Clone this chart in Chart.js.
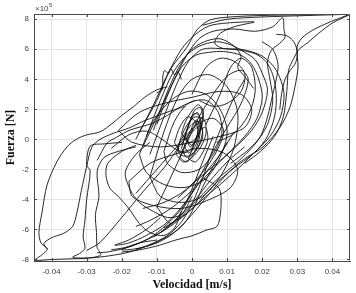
<!DOCTYPE html>
<html>
<head>
<meta charset="utf-8">
<script src="https://cdn.jsdelivr.net/npm/chart.js@4.4.0/dist/chart.umd.min.js"></script>
<style>
html,body{margin:0;padding:0;background:#fff;}
#wrap{width:356px;height:293px;position:relative;}
</style>
</head>
<body>
<div id="wrap"><canvas id="c"></canvas></div>
<script>
// Velocity [m/s] vs Force [x10^5 N] traces
const xTicks = [-0.04,-0.03,-0.02,-0.01,0,0.01,0.02,0.03,0.04];
const yTicks = [-8,-6,-4,-2,0,2,4,6,8];

const outerLeft = [[-0.0070,3.50],[-0.0100,3.30],[-0.0135,2.80],[-0.0168,2.15],[-0.0200,1.60],[-0.0225,1.10],[-0.0262,0.50],[-0.0300,0.30],[-0.0330,0.00],[-0.0356,-0.50],[-0.0385,-1.50],[-0.0413,-3.05],[-0.0427,-4.85],[-0.0436,-6.20],[-0.0430,-6.90],[-0.0412,-7.30],[-0.0428,-7.70],[-0.0447,-8.05],[-0.0400,-8.00],[-0.0340,-7.95],[-0.0280,-7.88],[-0.0220,-7.70],[-0.0170,-7.45],[-0.0120,-7.00],[-0.0070,-6.40],[-0.0030,-5.50],[0.0000,-4.30],[0.0030,-2.60],[0.0060,-0.60],[0.0090,1.20],[0.0120,2.80],[0.0150,4.00]];
const secondLeft = [[-0.0412,-7.30],[-0.0422,-6.95],[-0.0400,-6.55],[-0.0365,-6.25],[-0.0340,-5.80],[-0.0328,-4.90],[-0.0315,-3.40],[-0.0300,-1.80],[-0.0285,-0.50],[-0.0262,0.00],[-0.0225,0.40],[-0.0180,0.75],[-0.0140,1.20],[-0.0100,1.55],[-0.0060,1.90],[-0.0020,2.20]];
const leftVertical = [[-0.0200,-0.20],[-0.0250,-0.30],[-0.0290,-0.45],[-0.0300,-1.70],[-0.0290,-2.10],[-0.0300,-4.00],[-0.0305,-5.40],[-0.0310,-6.50],[-0.0305,-7.25],[-0.0320,-7.60],[-0.0340,-7.85],[-0.0300,-7.90],[-0.0260,-7.70],[-0.0270,-7.20],[-0.0272,-6.20],[-0.0275,-5.00],[-0.0265,-3.80],[-0.0270,-2.10],[-0.0250,-1.20],[-0.0210,-0.80],[-0.0160,-0.50]];
const leftMid = [[-0.0270,-1.40],[-0.0242,-0.25],[-0.0214,0.15],[-0.0177,0.62],[-0.0148,0.82],[-0.0110,1.10],[-0.0070,1.60],[-0.0030,2.20],[0.0010,2.60]];
const leftCross = [[-0.0230,-0.60],[-0.0180,0.30],[-0.0130,0.55],[-0.0085,0.00],[-0.0050,-0.60],[-0.0020,-0.90]];
const diagonal = [[-0.0300,-7.40],[-0.0262,-6.86],[-0.0200,-5.20],[-0.0140,-3.50],[-0.0080,-1.90],[-0.0034,-0.40],[0.0000,0.60],[0.0030,1.50]];
const lowerLeftLoop = [[-0.0160,-0.40],[-0.0200,-0.80],[-0.0240,-1.60],[-0.0245,-2.40],[-0.0234,-3.25],[-0.0210,-3.80],[-0.0180,-4.60],[-0.0150,-5.60],[-0.0120,-6.20],[-0.0080,-6.40],[-0.0050,-5.90],[-0.0030,-4.80]];
const lowerLeft2 = [[-0.0120,-0.20],[-0.0160,-1.00],[-0.0190,-2.20],[-0.0175,-3.40],[-0.0150,-4.20],[-0.0110,-4.80],[-0.0070,-5.20],[-0.0030,-5.00],[0.0000,-3.80]];
const lowerBulge = [[0.0034,-2.60],[0.0077,-3.26],[0.0083,-4.26],[0.0077,-5.50],[0.0068,-5.85],[0.0040,-6.05],[0.0003,-6.40],[-0.0046,-6.70],[-0.0100,-7.10],[-0.0160,-7.40],[-0.0200,-7.50]];
const upper1 = [[-0.0150,0.50],[-0.0100,2.60],[-0.0063,4.60],[-0.0014,6.15],[0.0014,7.29],[0.0051,7.95],[0.0108,8.15],[0.0200,8.25],[0.0300,8.30],[0.0447,8.35],[0.0393,7.82],[0.0345,7.29],[0.0313,6.75],[0.0299,6.15],[0.0302,4.82],[0.0293,3.49],[0.0279,2.15],[0.0251,0.82],[0.0202,-0.51],[0.0157,-1.18],[0.0137,-1.51],[0.0100,-2.30],[0.0050,-3.60],[0.0000,-5.00],[-0.0050,-6.20],[-0.0100,-6.90],[-0.0160,-7.30]];
const upper1b = [[0.0447,8.28],[0.0400,7.75],[0.0360,7.05],[0.0330,6.45],[0.0305,6.00],[0.0290,5.40],[0.0275,4.60],[0.0270,3.20],[0.0260,1.50],[0.0235,0.20],[0.0195,-0.80],[0.0150,-1.60]];
const topLine = [[0.0030,7.60],[0.0100,8.00],[0.0200,8.15],[0.0330,8.25],[0.0447,8.33]];
const upper2 = [[-0.0160,0.00],[-0.0110,2.30],[-0.0070,4.30],[-0.0030,6.00],[0.0005,6.90],[0.0048,7.55],[0.0100,7.75],[0.0177,7.82],[0.0120,7.50],[0.0080,7.05],[0.0065,6.40],[0.0090,6.05],[0.0140,6.00],[0.0200,5.55],[0.0240,4.60],[0.0262,3.10],[0.0252,1.50],[0.0222,0.20],[0.0172,-1.00],[0.0120,-1.90],[0.0060,-3.10],[0.0010,-4.40],[-0.0050,-5.60],[-0.0110,-6.50]];
const upper3 = [[-0.0140,-0.50],[-0.0090,2.00],[-0.0050,4.00],[-0.0015,5.60],[0.0020,6.70],[0.0060,7.20],[0.0120,7.35],[0.0180,7.20],[0.0230,7.50],[0.0258,8.10],[0.0262,7.30],[0.0265,6.80],[0.0250,6.40],[0.0225,5.90],[0.0215,5.10],[0.0222,4.00],[0.0230,2.60],[0.0215,1.00],[0.0180,-0.30],[0.0130,-1.50],[0.0070,-2.70],[0.0020,-3.90],[-0.0030,-5.10],[-0.0090,-6.20]];
const upper4 = [[-0.0120,-1.00],[-0.0080,1.50],[-0.0045,3.60],[-0.0010,5.20],[0.0030,6.00],[0.0080,6.05],[0.0135,5.95],[0.0180,5.70],[0.0210,5.20],[0.0230,4.30],[0.0240,3.00],[0.0235,1.50],[0.0210,0.00],[0.0160,-1.30],[0.0100,-2.60],[0.0040,-3.80],[-0.0020,-5.00],[-0.0080,-5.90]];
const upper5 = [[-0.0100,1.00],[-0.0065,3.20],[-0.0030,4.80],[0.0010,5.60],[0.0050,5.80],[0.0090,5.85],[0.0140,5.60],[0.0170,5.00],[0.0190,4.00],[0.0200,2.80],[0.0185,1.40],[0.0150,0.20],[0.0100,-1.00],[0.0050,-2.20],[0.0000,-3.40],[-0.0060,-4.60],[-0.0120,-5.40],[-0.0160,-5.80]];
const upper6 = [[-0.0130,0.20],[-0.0090,2.60],[-0.0055,4.40],[-0.0020,5.50],[0.0020,6.20],[0.0070,6.50],[0.0110,6.30],[0.0150,5.80],[0.0180,5.30],[0.0200,4.40],[0.0215,3.30],[0.0200,1.80],[0.0170,0.60],[0.0120,-0.60],[0.0060,-1.80],[0.0010,-2.80],[-0.0040,-3.90]];
const upper7 = [[-0.0110,0.60],[-0.0075,2.90],[-0.0040,4.70],[-0.0005,5.90],[0.0035,6.50],[0.0080,6.70],[0.0120,6.20],[0.0140,5.50],[0.0130,4.80],[0.0150,4.20],[0.0175,3.40]];
const rightInner1 = [[0.0200,6.50],[0.0230,6.00],[0.0245,5.00],[0.0240,4.00],[0.0230,3.00],[0.0215,1.50],[0.0195,0.20],[0.0160,-0.70],[0.0110,-1.60]];
const rightInner2 = [[0.0240,7.00],[0.0270,6.90],[0.0290,6.50],[0.0300,5.80],[0.0295,5.10],[0.0280,4.60],[0.0265,4.00],[0.0255,3.00],[0.0250,2.00]];
const rightMid1 = [[0.0000,3.00],[0.0040,4.80],[0.0080,5.40],[0.0120,5.20],[0.0150,4.40],[0.0140,3.20],[0.0100,2.40],[0.0060,2.20],[0.0020,2.60]];
const rightMid2 = [[0.0040,1.00],[0.0080,3.00],[0.0110,4.80],[0.0140,5.40],[0.0170,4.80],[0.0180,3.20],[0.0160,1.60],[0.0120,0.40],[0.0070,-0.20]];
const mid1 = [[-0.0120,-2.50],[-0.0080,0.50],[-0.0040,2.80],[0.0000,4.00],[0.0050,4.30],[0.0100,3.50],[0.0130,1.80],[0.0120,-0.50],[0.0080,-2.50],[0.0030,-3.80],[-0.0030,-4.20],[-0.0090,-3.80],[-0.0120,-2.50]];
const mid2 = [[-0.0150,-1.00],[-0.0110,1.20],[-0.0060,2.60],[-0.0010,3.20],[0.0040,3.00],[0.0080,2.00],[0.0100,0.50],[0.0080,-1.20],[0.0040,-2.60],[-0.0020,-3.20],[-0.0080,-3.00],[-0.0130,-2.20],[-0.0150,-1.00]];
const mid3 = [[-0.0080,-0.80],[-0.0050,1.20],[-0.0010,2.40],[0.0040,2.60],[0.0075,1.80],[0.0085,0.40],[0.0060,-1.00],[0.0020,-2.00],[-0.0030,-2.20],[-0.0070,-1.60],[-0.0080,-0.80]];
const mid4 = [[-0.0210,0.60],[-0.0150,1.80],[-0.0080,2.40],[0.0000,2.80],[0.0080,3.20],[0.0140,3.00],[0.0170,2.00],[0.0150,0.80],[0.0080,0.20],[0.0000,-0.20],[-0.0090,-0.50],[-0.0170,-0.20],[-0.0210,0.60]];
const mid5 = [[-0.0180,-2.80],[-0.0120,-1.60],[-0.0050,-1.00],[0.0020,-0.60],[0.0090,-0.90],[0.0130,-2.00],[0.0110,-3.20],[0.0050,-4.00],[-0.0030,-4.60],[-0.0110,-4.40],[-0.0170,-3.80],[-0.0180,-2.80]];
const mid6 = [[-0.0100,-4.50],[-0.0060,-2.50],[-0.0020,-0.50],[0.0020,1.50],[0.0060,3.00],[0.0100,4.20],[0.0140,4.60],[0.0160,4.00],[0.0140,2.40],[0.0100,0.80],[0.0060,-0.80],[0.0020,-2.60],[-0.0020,-4.40],[-0.0060,-5.60],[-0.0100,-4.50]];
const mid7 = [[-0.0160,-3.60],[-0.0100,-2.00],[-0.0040,-0.40],[0.0010,0.90],[0.0060,1.40],[0.0090,0.60],[0.0070,-0.80],[0.0030,-2.20],[-0.0020,-3.40],[-0.0080,-4.20],[-0.0140,-4.60]];
const knot1 = [[-0.0030,-0.60],[-0.0015,0.60],[0.0000,1.40],[0.0015,1.80],[0.0025,1.20],[0.0020,0.00],[0.0005,-0.90],[-0.0015,-1.20],[-0.0030,-0.60]];
const knot2 = [[-0.0025,-0.20],[-0.0010,0.90],[0.0005,1.70],[0.0020,1.60],[0.0022,0.60],[0.0010,-0.40],[-0.0010,-0.90],[-0.0025,-0.20]];
const knot3 = [[-0.0040,-0.40],[-0.0020,0.40],[0.0000,1.00],[0.0020,1.20],[0.0030,0.50],[0.0015,-0.60],[-0.0010,-1.10],[-0.0035,-1.00],[-0.0040,-0.40]];
const knot4 = [[-0.0020,0.20],[-0.0005,1.30],[0.0010,2.00],[0.0025,2.10],[0.0030,1.40],[0.0018,0.30],[0.0000,-0.40],[-0.0020,0.20]];
const knot5 = [[-0.0035,-1.20],[-0.0015,-0.10],[0.0005,0.60],[0.0025,0.90],[0.0030,0.10],[0.0010,-0.80],[-0.0015,-1.50],[-0.0035,-1.20]];
const knot6 = [[-0.0015,0.00],[0.0000,0.80],[0.0012,1.30],[0.0020,0.90],[0.0010,0.00],[-0.0005,-0.50],[-0.0015,0.00]];
const knot7 = [[-0.0045,-1.00],[-0.0030,0.20],[-0.0010,1.10],[0.0010,1.50],[0.0035,1.30],[0.0040,0.40],[0.0025,-0.50],[0.0000,-1.20],[-0.0025,-1.50],[-0.0045,-1.00]];
const knot8 = [[-0.0030,0.40],[-0.0018,1.20],[0.0000,1.90],[0.0018,2.30],[0.0032,1.90],[0.0028,0.90],[0.0012,0.10],[-0.0010,-0.20],[-0.0030,0.40]];
const knot9 = [[-0.0050,-0.20],[-0.0035,0.80],[-0.0012,1.50],[0.0012,1.10],[0.0015,0.20],[-0.0005,-0.70],[-0.0030,-0.90],[-0.0050,-0.20]];
const knot10 = [[-0.0010,-1.30],[0.0005,-0.40],[0.0020,0.50],[0.0038,0.80],[0.0045,0.00],[0.0030,-0.90],[0.0010,-1.50],[-0.0010,-1.30]];
const lower1 = [[0.0150,-0.50],[0.0100,-1.50],[0.0050,-2.80],[0.0010,-4.00],[-0.0040,-5.20],[-0.0090,-6.20],[-0.0140,-6.80],[-0.0190,-7.20],[-0.0230,-7.35]];
const lower2 = [[0.0120,0.50],[0.0080,-1.00],[0.0040,-2.20],[0.0000,-3.60],[-0.0040,-4.80],[-0.0080,-5.70],[-0.0130,-6.40],[-0.0180,-6.90],[-0.0220,-7.05],[-0.0180,-6.70],[-0.0130,-6.00],[-0.0090,-5.20]];
const lower3 = [[0.0060,0.20],[0.0030,-1.50],[0.0005,-3.00],[-0.0020,-4.30],[-0.0060,-5.40],[-0.0110,-6.40],[-0.0170,-7.10],[-0.0240,-7.50],[-0.0270,-7.55]];
const lower4 = [[0.0100,-0.20],[0.0060,-1.80],[0.0030,-3.20],[0.0000,-4.80],[-0.0030,-5.80],[-0.0080,-6.60],[-0.0140,-7.20],[-0.0200,-7.35],[-0.0150,-6.90],[-0.0100,-6.70]];
const zigzag = [[-0.0100,3.10],[-0.0085,3.30],[-0.0083,4.20],[-0.0078,4.60],[-0.0068,4.40],[-0.0060,4.70],[-0.0050,4.30],[-0.0040,4.50],[-0.0030,4.00]];

const traces = [outerLeft, secondLeft, leftVertical, leftMid, leftCross, diagonal, lowerLeftLoop, lowerLeft2, lowerBulge,
  upper1, upper1b, topLine, upper2, upper3, upper4, upper5, upper6, upper7, rightInner1, rightInner2, rightMid1, rightMid2,
  mid1, mid2, mid3, mid4, mid5, mid6, mid7, knot1, knot2, knot3, knot4, knot5, knot6, knot7, knot8, knot9, knot10,
  lower1, lower2, lower3, lower4, zigzag];

const datasets = traces.map(t => ({
  data: t.map(p => ({x: p[0], y: p[1]})),
  showLine: true, pointRadius: 0, borderColor: '#111', borderWidth: 0.9,
  tension: 0.3, fill: false
}));

const boxPlugin = {
  id: 'box',
  afterDraw(chart) {
    const {ctx, chartArea: a, scales} = chart;
    ctx.save();
    ctx.strokeStyle = '#4a4a4a';
    ctx.lineWidth = 1;
    ctx.beginPath();
    ctx.moveTo(a.left + 0.5, a.top + 0.5); ctx.lineTo(a.right - 0.5, a.top + 0.5);
    ctx.lineTo(a.right - 0.5, a.bottom - 0.5);
    ctx.stroke();
    ctx.beginPath();
    xTicks.forEach(v => { const px = Math.round(scales.x.getPixelForValue(v)) + 0.5;
      ctx.moveTo(px, a.bottom); ctx.lineTo(px, a.bottom - 3);
      ctx.moveTo(px, a.top); ctx.lineTo(px, a.top + 3); });
    yTicks.forEach(v => { const py = Math.round(scales.y.getPixelForValue(v)) + 0.5;
      ctx.moveTo(a.left, py); ctx.lineTo(a.left + 3, py);
      ctx.moveTo(a.right, py); ctx.lineTo(a.right - 3, py); });
    ctx.stroke();
    ctx.fillStyle = '#404040';
    ctx.font = '8px "Liberation Sans", Arial, sans-serif';
    ctx.textBaseline = 'alphabetic';
    const base = '\u00d710';
    ctx.fillText(base, a.left + 1, a.top - 3);
    const w = ctx.measureText(base).width;
    ctx.font = '6px "Liberation Sans", Arial, sans-serif';
    ctx.fillText('5', a.left + 1 + w + 0.5, a.top - 7);
    ctx.restore();
  }
};

new Chart(document.getElementById('c'), {
  type: 'scatter',
  data: { datasets },
  options: {
    responsive: true, maintainAspectRatio: false, animation: false,
    layout: { padding: { top: 14, right: 6, left: 0, bottom: 0 } },
    plugins: { legend: { display: false }, tooltip: { enabled: false } },
    scales: {
      x: {
        min: -0.045, max: 0.045,
        afterBuildTicks(s) { s.ticks = xTicks.map(v => ({value: v})); },
        afterFit(s) { s.height = 32; },
        ticks: { color: '#404040', font: { size: 8, family: '"Liberation Sans", Arial, sans-serif' }, padding: 6,
          maxRotation: 0, autoSkip: false, callback: v => (v === 0 ? '0' : String(Number(v.toFixed(2)))) },
        grid: { color: '#e3e3e3', lineWidth: 1, drawTicks: false },
        border: { display: true, color: '#4a4a4a', width: 1 },
        title: { display: true, text: 'Velocidad [m/s]', color: '#111',
          font: { family: '"Liberation Serif", "DejaVu Serif", serif', size: 12, weight: 'bold' }, padding: { top: 0, bottom: 1 } }
      },
      y: {
        min: -8.1, max: 8.35,
        afterBuildTicks(s) { s.ticks = yTicks.map(v => ({value: v})); },
        afterFit(s) { s.width = 34; },
        ticks: { color: '#404040', font: { size: 8, family: '"Liberation Sans", Arial, sans-serif' }, padding: 5,
          autoSkip: false, callback: v => String(v) },
        grid: { color: '#e3e3e3', lineWidth: 1, drawTicks: false },
        border: { display: true, color: '#4a4a4a', width: 1 },
        title: { display: true, text: 'Fuerza [N]', color: '#111',
          font: { family: '"Liberation Serif", "DejaVu Serif", serif', size: 12, weight: 'bold' }, padding: { top: 4, bottom: 0 } }
      }
    }
  },
  plugins: [boxPlugin]
});
</script>
</body>
</html>
